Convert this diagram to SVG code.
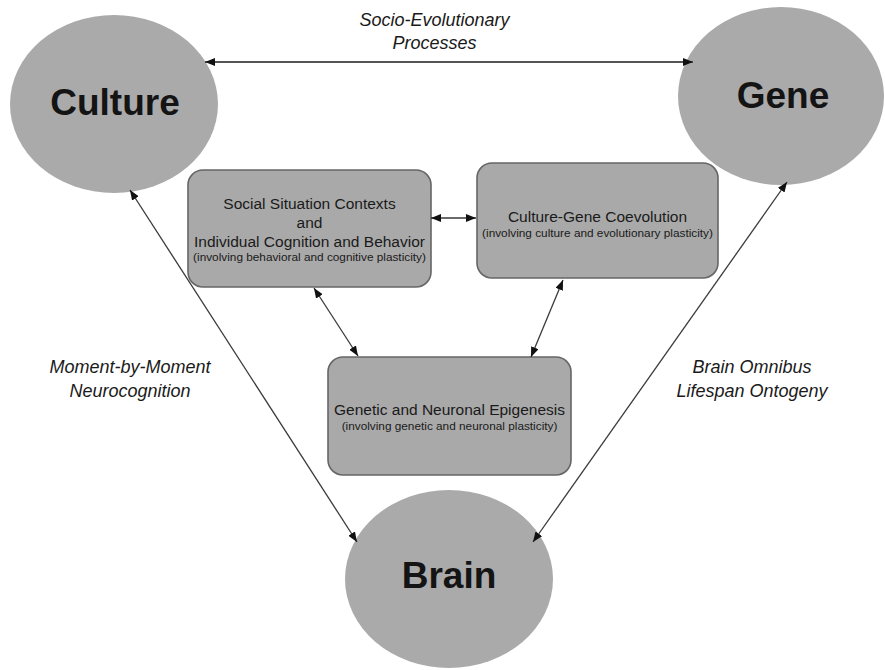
<svg xmlns="http://www.w3.org/2000/svg" width="885" height="670" viewBox="0 0 885 670">
  <style>
    .hub { fill: #aaaaaa; }
    .hub-label { font-family: "Liberation Sans", Arial, sans-serif; font-weight: bold; font-size: 37px; fill: #141414; text-anchor: middle; }
    .box { fill: #a9a9a9; stroke: #666666; stroke-width: 1.6; }
    .box-title { font-family: "Liberation Sans", Arial, sans-serif; font-size: 15.5px; fill: #1a1a1a; text-anchor: middle; }
    .box-sub { font-family: "Liberation Sans", Arial, sans-serif; font-size: 11.8px; fill: #1a1a1a; text-anchor: middle; }
    .edge-label { font-family: "Liberation Sans", Arial, sans-serif; font-style: italic; font-size: 18px; fill: #1a1a1a; text-anchor: middle; }
    .link { stroke: #3a3a3a; stroke-width: 1.3; fill: none; marker-start: url(#tip); marker-end: url(#tip); }
    .link-top { stroke: #555555; stroke-width: 2; }
  </style>
  <defs>
    <marker id="tip" viewBox="0 0 10 8" refX="10" refY="4" markerWidth="10" markerHeight="8" markerUnits="userSpaceOnUse" orient="auto-start-reverse">
      <path d="M0,0 L10,4 L0,8 Z" fill="#111111"/>
    </marker>
  </defs>

  <rect width="885" height="670" fill="#ffffff"/>

  <!-- outer hubs -->
  <g id="culture">
    <ellipse class="hub" cx="114" cy="104" rx="104" ry="89"/>
    <text class="hub-label" x="115" y="115">Culture</text>
  </g>
  <g id="gene">
    <ellipse class="hub" cx="781" cy="96" rx="103" ry="89"/>
    <text class="hub-label" x="783" y="108">Gene</text>
  </g>
  <g id="brain">
    <ellipse class="hub" cx="449" cy="579" rx="104" ry="89"/>
    <text class="hub-label" x="449" y="588">Brain</text>
  </g>

  <!-- inner process boxes -->
  <g id="social-cognition">
    <rect class="box" x="188" y="170" width="243" height="117" rx="15"/>
    <text class="box-title" x="309.5" y="209">Social Situation Contexts</text>
    <text class="box-title" x="309.5" y="228">and</text>
    <text class="box-title" x="309.5" y="247">Individual Cognition and Behavior</text>
    <text class="box-sub" x="309.5" y="261">(involving behavioral and cognitive plasticity)</text>
  </g>
  <g id="coevolution">
    <rect class="box" x="477" y="163" width="241" height="115" rx="15"/>
    <text class="box-title" x="597.5" y="222">Culture-Gene Coevolution</text>
    <text class="box-sub" x="597.5" y="237">(involving culture and evolutionary plasticity)</text>
  </g>
  <g id="epigenesis">
    <rect class="box" x="328" y="357" width="243" height="118" rx="15"/>
    <text class="box-title" x="449.5" y="415">Genetic and Neuronal Epigenesis</text>
    <text class="box-sub" x="449.5" y="430">(involving genetic and neuronal plasticity)</text>
  </g>

  <!-- connectors -->
  <g id="connectors">
    <line class="link link-top" x1="205" y1="62" x2="693" y2="62"/>
    <line class="link" x1="431" y1="218" x2="476" y2="218"/>
    <line class="link" x1="314" y1="288" x2="358" y2="356"/>
    <line class="link" x1="563" y1="280" x2="531" y2="357"/>
    <line class="link" x1="130" y1="190" x2="357" y2="542"/>
    <line class="link" x1="787" y1="182" x2="533" y2="542"/>
  </g>

  <!-- connector labels -->
  <g id="labels">
    <text class="edge-label" x="434.5" y="26">Socio-Evolutionary</text>
    <text class="edge-label" x="434.5" y="49">Processes</text>
    <text class="edge-label" x="130" y="373">Moment-by-Moment</text>
    <text class="edge-label" x="130" y="397">Neurocognition</text>
    <text class="edge-label" x="752" y="373">Brain Omnibus</text>
    <text class="edge-label" x="752" y="397">Lifespan Ontogeny</text>
  </g>
</svg>
